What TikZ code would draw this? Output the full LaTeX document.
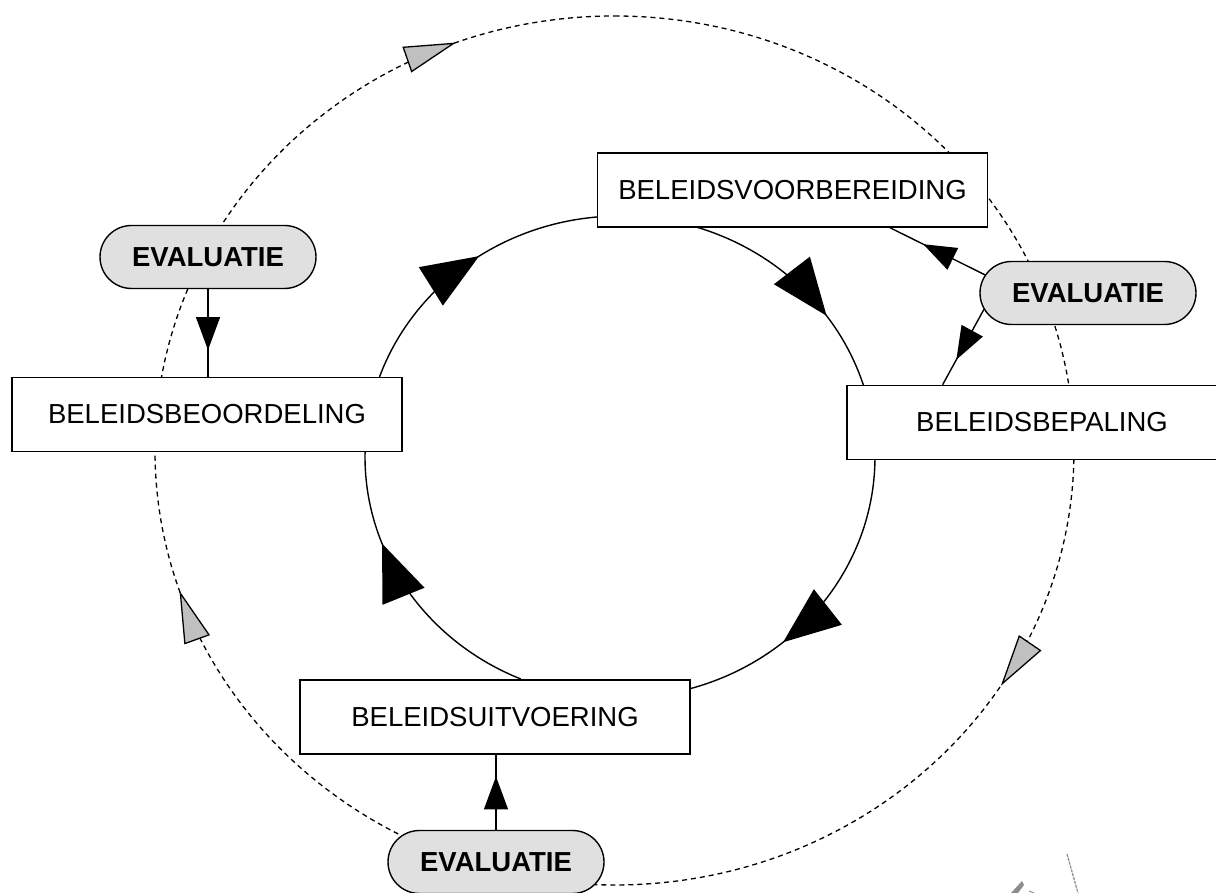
\documentclass[tikz,border=0pt]{standalone}
\usepackage{fontspec}
\setmainfont{Liberation Sans}
\usetikzlibrary{arrows.meta,decorations.markings,calc,shapes.misc}
\definecolor{pillgray}{HTML}{E0E0E0}
\definecolor{tipgray}{HTML}{C0C0C0}
\definecolor{fragray}{HTML}{8C8C8C}
\begin{document}
\begin{tikzpicture}[x=1pt,y=1pt,
  stage/.style={draw, line width=1.4pt, fill=white, minimum width=390pt,
    minimum height=74pt, inner sep=0pt, font=\fontsize{27.5}{30}\selectfont},
  evalnode/.style={rounded rectangle, draw, line width=1.4pt, fill=pillgray,
    minimum width=216pt, minimum height=63pt, inner sep=0pt,
    font=\fontsize{27.5}{30}\selectfont\bfseries},
  flow/.style={line width=1.4pt,
    decoration={markings, mark=at position #1 with {\arrow{Triangle[length=57pt,width=45pt]}}},
    postaction={decorate}},
  evflow/.style={line width=1.4pt,
    decoration={markings, mark=at position #1 with {\arrow{Triangle[length=33pt,width=24pt]}}},
    postaction={decorate}},
  outerloop/.style={line width=1.3pt, dash pattern=on 5pt off 4pt,
    decoration={markings,
      mark=at position 0.339 with {\arrow[solid]{Triangle[length=52pt,width=27pt,fill=tipgray]}},
      mark=at position 0.699 with {\arrow[solid]{Triangle[length=52pt,width=27pt,fill=tipgray]}},
      mark=at position 0.9425 with {\arrow[solid]{Triangle[length=52pt,width=27pt,fill=tipgray]}}},
    postaction={decorate}}
]
\useasboundingbox (0,0) rectangle (1216,893);
\clip (0,0) rectangle (1216,893);

\coordinate (ci) at (620,436);
\coordinate (co) at (614.5,442.5);

% outer evaluation loop (dashed)
\draw[outerloop] ($(co)+(90:459.5pt and 434.5pt)$)
  arc[start angle=450, end angle=90, x radius=459.5pt, y radius=434.5pt];

% inner policy cycle
\draw[flow=0.667] ($(ci)+(72.6:255pt and 241pt)$)
  arc[start angle=72.6, end angle=17.1, x radius=255pt, y radius=241pt];
\draw[flow=0.667] ($(ci)+(-0.5:255pt and 241pt)$)
  arc[start angle=-0.5, end angle=-74.3, x radius=255pt, y radius=241pt];
\draw[flow=0.68] ($(ci)+(247.1:255pt and 241pt)$)
  arc[start angle=247.1, end angle=178.8, x radius=255pt, y radius=241pt];
\draw[flow=0.56] ($(ci)+(160.6:255pt and 241pt)$)
  arc[start angle=160.6, end angle=95.2, x radius=255pt, y radius=241pt];

% stages
\node[stage] (voor) at (792.5,703) {BELEIDSVOORBEREIDING};
\node[stage] (beoord) at (207,478.5) {BELEIDSBEOORDELING};
\node[stage] (bepal) at (1042,470.5) {BELEIDSBEPALING};
\node[stage] (uitv) at (495,176) {BELEIDSUITVOERING};

% evaluations
\node[evalnode] (evL) at (208,636) {EVALUATIE};
\node[evalnode] (evR) at (1088,600) {EVALUATIE};
\node[evalnode] (evB) at (496,31) {EVALUATIE};

% evaluation feedback
\draw[evflow=0.695] (evL.south) -- (evL.south |- beoord.north);
\draw[evflow=0.71] (evB.north) -- (evB.north |- uitv.south);
\draw[evflow=0.65] (evR.170) -- ($(voor.south west)!0.749!(voor.south east)$);
\draw[evflow=0.667] (evR.189) -- ($(bepal.north west)!0.246!(bepal.north east)$);

% faint fragment at lower right
\draw[fragray, line width=1.2pt, dash pattern=on 3pt off 1pt] (1067,39) -- (1078,0);
\fill[fragray] (1011,0) -- (1022,12) -- (1024,8) -- (1018,0) -- cycle;
\draw[fragray, line width=1pt] (1029,2) -- (1034,0);
\end{tikzpicture}
\end{document}
